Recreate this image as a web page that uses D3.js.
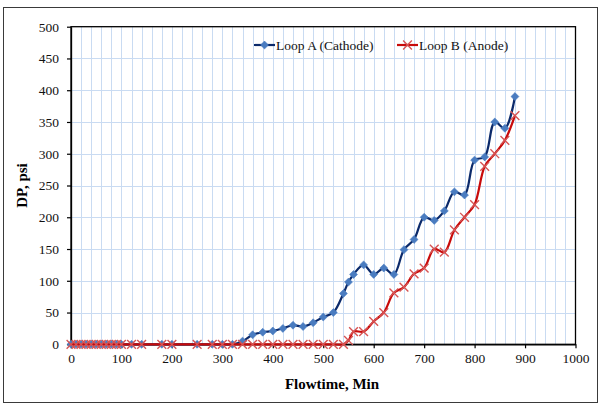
<!DOCTYPE html>
<html>
<head>
<meta charset="utf-8">
<script src="https://cdn.jsdelivr.net/npm/d3@7"></script>
<style>
  html, body { margin: 0; padding: 0; background: #fff; }
  svg { display: block; font-family: "Liberation Serif", "Times New Roman", serif; }
</style>
</head>
<body>
<svg id="chart" width="601" height="405"></svg>
<script>
// Flowtime (min) sampled for both loops
const flowtime = [0, 10, 20, 30, 40, 50, 60, 70, 80, 90, 100, 120, 140, 180, 200, 250, 280, 300, 320,
  340, 360, 380, 400, 420, 440, 460, 480, 500, 520, 540, 550, 560, 580, 600, 620, 640, 660, 680, 700,
  720, 740, 760, 780, 800, 820, 840, 860, 880];

// Differential pressure (psi), Loop A (Cathode)
const loopA = [0, 0, 0, 0, 0, 0, 0, 0, 0, 0, 0, 0, 0, 0, 0, 0, 0, 0, 0,
  5, 15, 19, 21, 25, 30, 28, 34, 43, 50, 80, 98, 110, 125, 110, 120, 110, 149, 165, 200,
  195, 210, 240, 235, 290, 295, 350, 340, 390];

// Differential pressure (psi), Loop B (Anode)
const loopB = [0, 0, 0, 0, 0, 0, 0, 0, 0, 0, 0, 0, 0, 0, 0, 0, 0, 0, 0,
  0, 0, 0, 0, 0, 0, 0, 0, 0, 0, 0, 6, 20, 20, 36, 50, 81, 90, 111, 120,
  150, 145, 180, 200, 220, 280, 300, 321, 360];

const seriesNames = ["Loop A (Cathode)", "Loop B (Anode)"];
const xTicks = [0, 100, 200, 300, 400, 500, 600, 700, 800, 900, 1000];
const yTicks = [0, 50, 100, 150, 200, 250, 300, 350, 400, 450, 500];

const svg = d3.select("#chart");
const plot = { left: 71, top: 26.7, right: 575.5, bottom: 344.3 };

// outer chart frame
svg.append("rect")
  .attr("x", 3.5).attr("y", 7.5).attr("width", 594).attr("height", 395)
  .attr("fill", "#fff").attr("stroke", "#3a3a3a").attr("stroke-width", 1);

const x = d3.scaleLinear().domain([0, 1000]).range([plot.left, plot.right]);
const y = d3.scaleLinear().domain([0, 500]).range([plot.bottom, plot.top]);

// gridlines: vertical minor every 20, horizontal major every 50
const grid = svg.append("g").attr("stroke", "#c9dbf2").attr("stroke-width", 1);
grid.selectAll("line.v").data(d3.range(20, 1000, 20)).join("line")
  .attr("x1", d => Math.round(x(d)) + 0.5).attr("x2", d => Math.round(x(d)) + 0.5)
  .attr("y1", plot.top).attr("y2", plot.bottom);
grid.selectAll("line.h").data(yTicks.slice(1, -1)).join("line")
  .attr("y1", d => Math.round(y(d)) + 0.5).attr("y2", d => Math.round(y(d)) + 0.5)
  .attr("x1", plot.left).attr("x2", plot.right);

// plot area border
svg.append("rect")
  .attr("x", plot.left).attr("y", plot.top)
  .attr("width", plot.right - plot.left).attr("height", plot.bottom - plot.top)
  .attr("fill", "none").attr("stroke", "#000").attr("stroke-width", 1.3);

// axes
const fmt = d3.format("d");
const xAxis = svg.append("g")
  .attr("transform", `translate(0,${plot.bottom})`)
  .call(d3.axisBottom(x).tickValues(xTicks).tickFormat(fmt).tickSize(4).tickSizeOuter(0).tickPadding(5));
const yAxis = svg.append("g")
  .attr("transform", `translate(${plot.left},0)`)
  .call(d3.axisLeft(y).tickValues(yTicks).tickFormat(fmt).tickSize(4).tickSizeOuter(0).tickPadding(8));
[xAxis, yAxis].forEach(a => {
  a.select(".domain").attr("stroke", "#000").attr("stroke-width", 1.3);
  a.selectAll(".tick line").attr("stroke", "#000").attr("stroke-width", 1.2);
  a.selectAll(".tick text")
    .attr("font-family", "'Liberation Serif', 'Times New Roman', serif")
    .attr("font-size", 13.5).attr("fill", "#111");
});

// axis titles
svg.append("text")
  .attr("x", 332).attr("y", 389)
  .attr("text-anchor", "middle")
  .attr("font-weight", "bold").attr("font-size", 15)
  .text("Flowtime, Min");
svg.append("text")
  .attr("transform", `translate(27,${(plot.top + plot.bottom) / 2}) rotate(-90)`)
  .attr("text-anchor", "middle")
  .attr("font-weight", "bold").attr("font-size", 15)
  .text("DP, psi");

const line = d3.line().curve(d3.curveCatmullRom.alpha(0.5));

const diamond = d3.symbol().type(d3.symbolDiamond2).size(40);
const cross = d3.symbol().type(d3.symbolTimes).size(52);

const series = [
  { name: seriesNames[0], values: loopA, line: "#0b2a6b", mark: "#4a7cc0", kind: "diamond" },
  { name: seriesNames[1], values: loopB, line: "#c80a0a", mark: "#d65454", kind: "cross" }
];

series.forEach(s => {
  const pts = flowtime.map((t, i) => [x(t), y(s.values[i])]);
  const g = svg.append("g");
  g.append("path")
    .attr("d", line(pts))
    .attr("fill", "none").attr("stroke", s.line).attr("stroke-width", 2.2);
  if (s.kind === "diamond") {
    g.selectAll("path.m").data(pts).join("path")
      .attr("transform", d => `translate(${d[0]},${d[1]})`)
      .attr("d", diamond).attr("fill", s.mark).attr("stroke", s.mark).attr("stroke-width", 0.6);
  } else {
    g.selectAll("path.m").data(pts).join("path")
      .attr("transform", d => `translate(${d[0]},${d[1]})`)
      .attr("d", cross).attr("fill", "none").attr("stroke", s.mark).attr("stroke-width", 1.4);
  }
});

// legend
const legendItems = [
  { s: series[0], x0: 254 },
  { s: series[1], x0: 397 }
];
const ly = 45;
legendItems.forEach(({ s, x0 }) => {
  const g = svg.append("g");
  g.append("line").attr("x1", x0).attr("x2", x0 + 21).attr("y1", ly).attr("y2", ly)
    .attr("stroke", s.line).attr("stroke-width", 2.2);
  const m = g.append("path").attr("transform", `translate(${x0 + 10.5},${ly})`);
  if (s.kind === "diamond") {
    m.attr("d", diamond).attr("fill", s.mark).attr("stroke", s.mark).attr("stroke-width", 0.6);
  } else {
    m.attr("d", cross).attr("fill", "none").attr("stroke", s.mark).attr("stroke-width", 1.4);
  }
  g.append("text").attr("x", x0 + 22).attr("y", ly + 4.5)
    .attr("font-size", 13.5).attr("fill", "#111")
    .text(s.name);
});
</script>
</body>
</html>
